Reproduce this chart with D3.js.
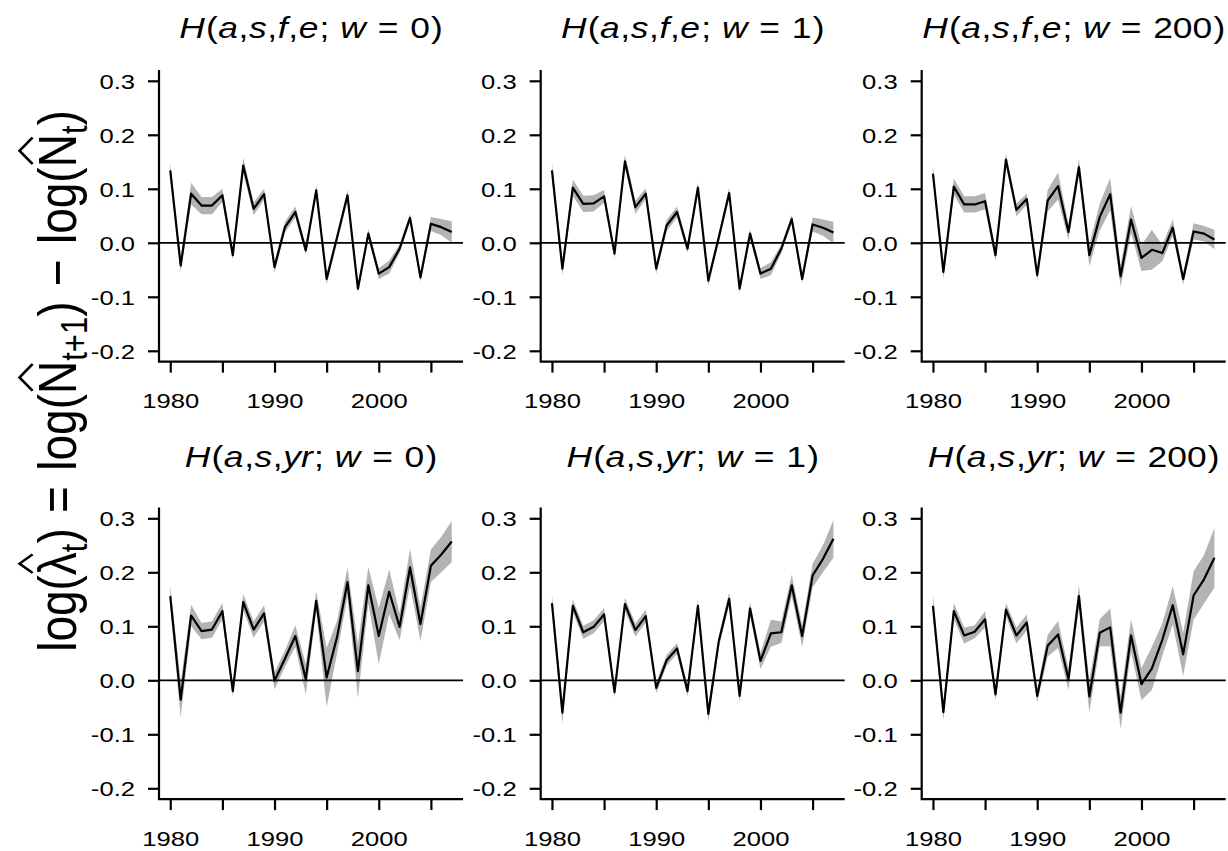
<!DOCTYPE html>
<html>
<head>
<meta charset="utf-8">
<script src="https://cdn.jsdelivr.net/npm/d3@7"></script>
<style>
  body { margin: 0; background: #fff; }
  svg { display: block; }
  text { font-family: "Liberation Sans", Arial, Helvetica, sans-serif; fill: #000; }
</style>
</head>
<body>
<svg id="chart" width="1228" height="851"></svg>
<script>
// Years of the annual growth-rate series
const years = [1980, 1981, 1982, 1983, 1984, 1985, 1986, 1987, 1988, 1989,
               1990, 1991, 1992, 1993, 1994, 1995, 1996, 1997, 1998, 1999,
               2000, 2001, 2002, 2003, 2004, 2005, 2006, 2007];

// log growth rate estimates, model H(a,s,f,e)
const fe_w0 = [0.134, -0.042, 0.091, 0.069, 0.069, 0.088, -0.023, 0.143, 0.063, 0.090,
               -0.045, 0.029, 0.057, -0.014, 0.097, -0.067, 0.010, 0.088, -0.085, 0.017,
               -0.057, -0.045, -0.011, 0.046, -0.064, 0.035, 0.029, 0.020];
const fe_w1 = [0.134, -0.048, 0.102, 0.072, 0.073, 0.086, -0.020, 0.151, 0.066, 0.091,
               -0.048, 0.032, 0.057, -0.011, 0.102, -0.070, 0.010, 0.092, -0.085, 0.017,
               -0.057, -0.048, -0.011, 0.044, -0.067, 0.034, 0.028, 0.019];
const fe_w200 = [0.128, -0.054, 0.104, 0.071, 0.071, 0.077, -0.023, 0.154, 0.061, 0.081,
                 -0.060, 0.078, 0.105, 0.020, 0.140, -0.023, 0.048, 0.090, -0.062, 0.043,
                 -0.028, -0.013, -0.019, 0.028, -0.067, 0.021, 0.017, 0.006];

// log growth rate estimates, model H(a,s,yr)
const yr_w0 = [0.156, -0.036, 0.120, 0.091, 0.094, 0.128, -0.020, 0.145, 0.094, 0.124,
               -0.001, 0.040, 0.082, 0.002, 0.147, 0.005, 0.080, 0.182, 0.017, 0.176,
               0.082, 0.164, 0.099, 0.209, 0.104, 0.212, 0.233, 0.257];
const yr_w1 = [0.143, -0.060, 0.138, 0.089, 0.099, 0.122, -0.022, 0.141, 0.093, 0.119,
               -0.014, 0.037, 0.059, -0.020, 0.138, -0.062, 0.072, 0.151, -0.029, 0.133,
               0.036, 0.087, 0.089, 0.176, 0.082, 0.194, 0.225, 0.262];
const yr_w200 = [0.138, -0.059, 0.128, 0.083, 0.090, 0.113, -0.026, 0.131, 0.083, 0.107,
                 -0.029, 0.064, 0.085, 0.002, 0.156, -0.030, 0.088, 0.098, -0.060, 0.083,
                 -0.007, 0.022, 0.075, 0.139, 0.048, 0.157, 0.187, 0.227];

// Half-widths of the uncertainty bands
const fe_w0_band = [0.015, 0.012, 0.020, 0.016, 0.016, 0.012, 0.008, 0.014, 0.012, 0.010,
                    0.010, 0.010, 0.010, 0.008, 0.010, 0.010, 0.008, 0.010, 0.008, 0.008,
                    0.010, 0.012, 0.008, 0.008, 0.008, 0.013, 0.015, 0.020];
const fe_w1_band = [0.015, 0.012, 0.015, 0.015, 0.015, 0.012, 0.008, 0.012, 0.012, 0.010,
                    0.010, 0.010, 0.010, 0.008, 0.010, 0.010, 0.008, 0.010, 0.008, 0.008,
                    0.010, 0.012, 0.008, 0.008, 0.008, 0.013, 0.015, 0.020];
const fe_w200_band = [0.015, 0.012, 0.015, 0.015, 0.015, 0.015, 0.010, 0.012, 0.012, 0.010,
                      0.010, 0.020, 0.025, 0.015, 0.015, 0.020, 0.025, 0.030, 0.020, 0.025,
                      0.024, 0.037, 0.015, 0.015, 0.010, 0.015, 0.014, 0.018];
const yr_w0_band = [0.020, 0.033, 0.020, 0.015, 0.015, 0.015, 0.010, 0.015, 0.015, 0.015,
                    0.016, 0.015, 0.020, 0.028, 0.018, 0.055, 0.030, 0.027, 0.050, 0.034,
                    0.052, 0.041, 0.025, 0.034, 0.031, 0.030, 0.033, 0.038];
const yr_w1_band = [0.015, 0.020, 0.012, 0.012, 0.012, 0.012, 0.010, 0.012, 0.012, 0.012,
                    0.010, 0.010, 0.010, 0.010, 0.012, 0.015, 0.010, 0.012, 0.012, 0.012,
                    0.015, 0.025, 0.020, 0.020, 0.020, 0.022, 0.025, 0.035];
const yr_w200_band = [0.020, 0.015, 0.015, 0.015, 0.012, 0.015, 0.012, 0.012, 0.015, 0.015,
                      0.012, 0.020, 0.025, 0.020, 0.020, 0.030, 0.025, 0.035, 0.030, 0.030,
                      0.030, 0.040, 0.030, 0.035, 0.040, 0.045, 0.045, 0.055];

// Axis ticks and labels
const yTicks = [-0.2, -0.1, 0.0, 0.1, 0.2, 0.3];
const yTickLabels = ["-0.2", "-0.1", "0.0", "0.1", "0.2", "0.3"];
const xTicks = [1980, 1985, 1990, 1995, 2000, 2005];
const xTickLabels = ["1980", "", "1990", "", "2000", ""];
const yLimits = [-0.2, 0.3];

// Panel titles: model covariates and weight
const feTerms = ["a", "s", "f", "e"];
const yrTerms = ["a", "s", "yr"];
const weights = ["0", "1", "200"];

const panels = [
  { terms: feTerms, w: weights[0], values: fe_w0,   band: fe_w0_band,   col: 0, row: 0 },
  { terms: feTerms, w: weights[1], values: fe_w1,   band: fe_w1_band,   col: 1, row: 0 },
  { terms: feTerms, w: weights[2], values: fe_w200, band: fe_w200_band, col: 2, row: 0 },
  { terms: yrTerms, w: weights[0], values: yr_w0,   band: yr_w0_band,   col: 0, row: 1 },
  { terms: yrTerms, w: weights[1], values: yr_w1,   band: yr_w1_band,   col: 1, row: 1 },
  { terms: yrTerms, w: weights[2], values: yr_w200, band: yr_w200_band, col: 2, row: 1 }
];

// ---- layout ----
const svg = d3.select("#chart");
const colLeft = [159, 540.7, 921.7];
const rowTop = [70, 507.5];
const plotW = 304, plotH = 291.6;
const tickStretch = 1.22, titleStretch = 1.18, labelStretch = 1.18;
const tickFont = 21, titleFont = 30, labelFont = 46;
const bandColor = "#b3b3b3";

const xPad = (d3.max(years) - d3.min(years)) * 0.04;
const yPad = (yLimits[1] - yLimits[0]) * 0.04;

function addTitle(g, cx, baseline, terms, w) {
  const t = g.append("text")
    .attr("text-anchor", "middle")
    .attr("transform", `translate(${cx},${baseline}) scale(${titleStretch},1)`)
    .style("font-size", titleFont + "px");
  const seg = (s, it, dx) => {
    const ts = t.append("tspan").text(s).style("font-style", it ? "italic" : "normal");
    if (dx) ts.attr("dx", dx);
    return ts;
  };
  seg("H", true);
  seg("(", false, 1);
  terms.forEach((term, i) => {
    if (i > 0) seg(",", false, 0.5);
    seg(term, true, 0.5);
  });
  seg(";\u00a0", false, 1);
  seg("w", true, 1);
  seg("=", false, 10);
  seg(w, false, 10);
  seg(")", false, 1);
}

panels.forEach(p => {
  const left = colLeft[p.col], top = rowTop[p.row];
  const x = d3.scaleLinear()
    .domain([d3.min(years) - xPad, d3.max(years) + xPad])
    .range([left, left + plotW]);
  const y = d3.scaleLinear()
    .domain([yLimits[0] - yPad, yLimits[1] + yPad])
    .range([top + plotH, top]);

  const g = svg.append("g");
  const rows = years.map((yr, i) => ({ yr, v: p.values[i], h: p.band[i] }));

  // uncertainty band
  g.append("path")
    .datum(rows)
    .attr("fill", bandColor)
    .attr("d", d3.area()
      .x(d => x(d.yr))
      .y0(d => y(d.v - d.h))
      .y1(d => y(d.v + d.h)));

  // zero reference line
  g.append("line")
    .attr("x1", x.range()[0]).attr("x2", x.range()[1])
    .attr("y1", y(0)).attr("y2", y(0))
    .attr("stroke", "#000").attr("stroke-width", 1.8);

  // estimate line
  g.append("path")
    .datum(rows)
    .attr("fill", "none")
    .attr("stroke", "#000")
    .attr("stroke-width", 2.2)
    .attr("stroke-linejoin", "round")
    .attr("d", d3.line().x(d => x(d.yr)).y(d => y(d.v)));

  // L-shaped frame
  g.append("path")
    .attr("fill", "none").attr("stroke", "#000").attr("stroke-width", 2.2)
    .attr("d", `M${x.range()[0]},${y.range()[1]}V${y.range()[0]}H${x.range()[1]}`);

  // y axis
  const ya = g.append("g")
    .attr("transform", `translate(${x.range()[0]},0)`)
    .call(d3.axisLeft(y).tickValues(yTicks).tickSize(11)
      .tickFormat((d, i) => yTickLabels[i]));
  ya.attr("font-family", null).attr("font-size", null);
  ya.select(".domain").remove();
  ya.selectAll(".tick line").attr("stroke", "#000").attr("stroke-width", 2.2);
  ya.selectAll(".tick text")
    .attr("x", null).attr("dy", "0.36em")
    .attr("transform", `translate(-24,0) scale(${tickStretch},1)`)
    .style("font-size", tickFont + "px")
    .attr("fill", "#000");

  // x axis
  const xa = g.append("g")
    .attr("transform", `translate(0,${y.range()[0]})`)
    .call(d3.axisBottom(x).tickValues(xTicks).tickSize(11)
      .tickFormat((d, i) => xTickLabels[i]));
  xa.attr("font-family", null).attr("font-size", null);
  xa.select(".domain").remove();
  xa.selectAll(".tick line").attr("stroke", "#000").attr("stroke-width", 2.2);
  xa.selectAll(".tick text")
    .attr("y", null).attr("dy", null)
    .attr("transform", `translate(0,46.5) scale(${tickStretch},1)`)
    .style("font-size", tickFont + "px")
    .attr("fill", "#000");

  // panel title
  addTitle(g, left + plotW / 2, p.row === 0 ? 38.3 : 466.7, p.terms, p.w);
});

// ---- shared y-axis label with hats over lambda and N ----
const labG = svg.append("g")
  .attr("transform", `translate(76,381) scale(${labelStretch},1) rotate(-90)`);
const lab = labG.append("text")
  .attr("text-anchor", "middle")
  .style("font-size", labelFont + "px");
const subSize = Math.round(labelFont * 0.68);
const subShift = labelFont * 0.2;
const parts = [
  { s: "log(" },
  { s: "\u03bb", hat: true },
  { s: "t", sub: true },
  { s: ")\u2004=\u2004log(" },
  { s: "N", hat: true },
  { s: "t+1", sub: true },
  { s: ")\u2004\u2212\u2004log(" },
  { s: "N", hat: true },
  { s: "t", sub: true },
  { s: ")" }
];
let charIndex = 0, prevSub = false;
const hatIdx = [];
parts.forEach(pt => {
  const ts = lab.append("tspan").text(pt.s);
  if (pt.sub) {
    ts.style("font-size", subSize + "px").attr("dy", subShift);
  } else if (prevSub) {
    ts.attr("dy", -subShift);
  }
  if (pt.hat) hatIdx.push(charIndex);
  charIndex += pt.s.length;
  prevSub = !!pt.sub;
});
const labNode = lab.node();
hatIdx.forEach(ci => {
  const ext = labNode.getExtentOfChar(ci);
  const x0 = ext.x + ext.width * 0.1, x1 = ext.x + ext.width * 0.9;
  const base = -labelFont * 0.80;
  labG.append("path")
    .attr("fill", "none").attr("stroke", "#000").attr("stroke-width", 2.4)
    .attr("stroke-linejoin", "miter")
    .attr("d", `M${x0},${base}L${(x0 + x1) / 2},${base - labelFont * 0.24}L${x1},${base}`);
});
</script>
</body>
</html>
